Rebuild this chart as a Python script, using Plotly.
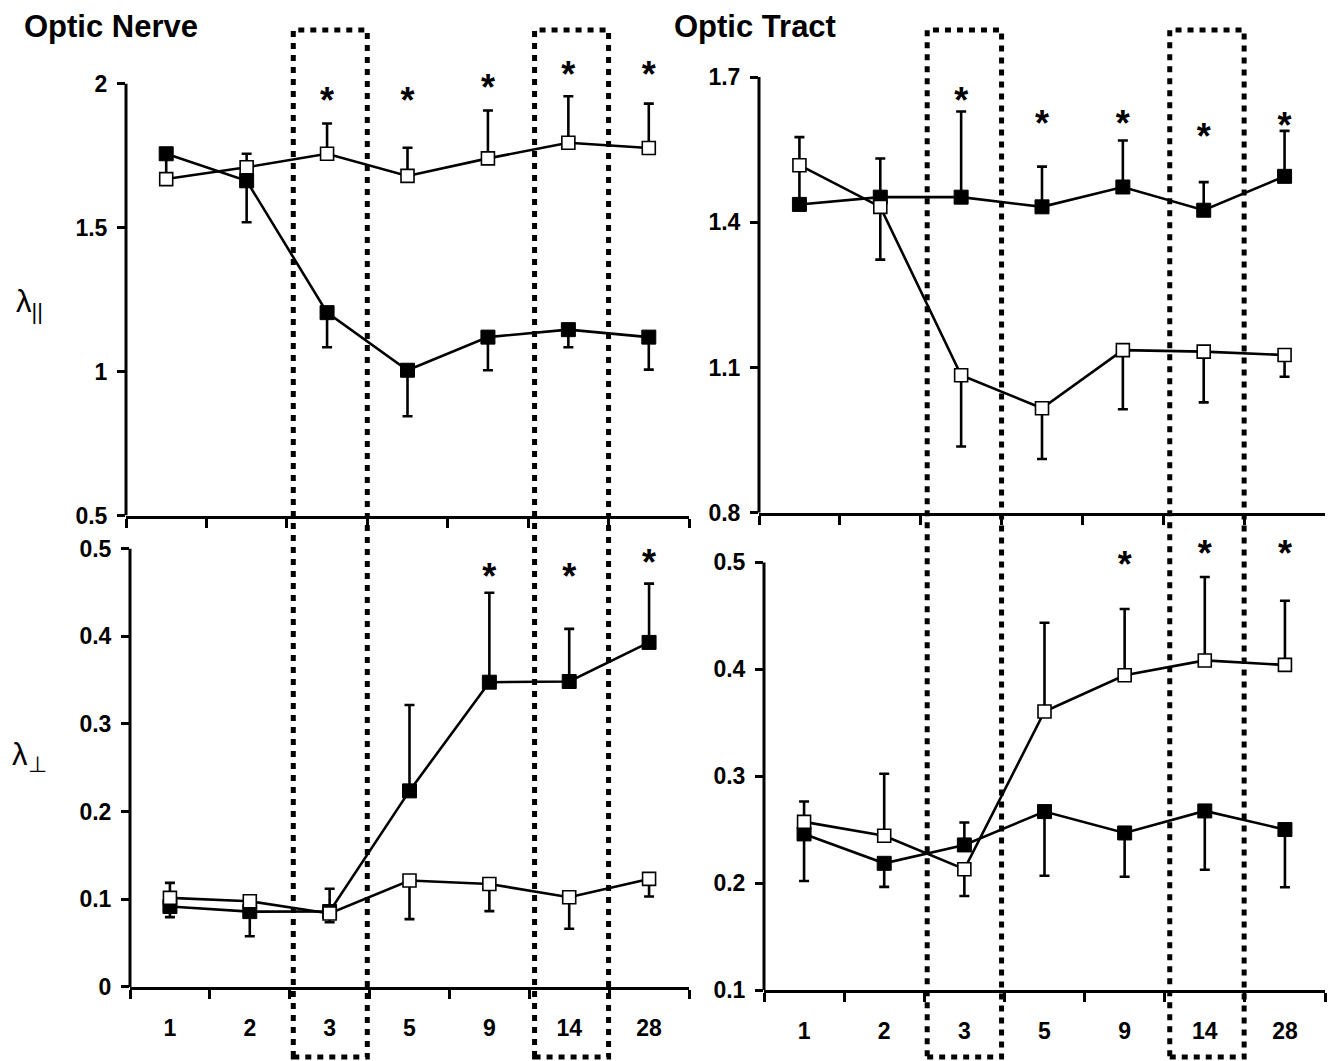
import plotly.graph_objects as go

# ---------------- data ----------------
days = ["1", "2", "3", "5", "9", "14", "28"]

# Optic nerve, lambda parallel
on_par_filled = [1.757, 1.663, 1.205, 1.005, 1.120, 1.146, 1.120]
on_par_filled_err_plus = [0, 0, 0, 0, 0, 0, 0]
on_par_filled_err_minus = [0.07, 0.144, 0.120, 0.160, 0.115, 0.061, 0.113]
on_par_open = [1.669, 1.710, 1.757, 1.680, 1.741, 1.795, 1.777]
on_par_open_err_plus = [0.0, 0.047, 0.105, 0.098, 0.166, 0.162, 0.154]
on_par_open_err_minus = [0, 0, 0, 0, 0, 0, 0]
on_par_star_days = ["3", "5", "9", "14", "28"]
on_par_star_y = [1.930, 1.930, 1.975, 2.020, 2.020]

# Optic tract, lambda parallel
ot_par_filled = [1.437, 1.452, 1.452, 1.432, 1.473, 1.425, 1.495]
ot_par_filled_err_plus = [0.139, 0.080, 0.177, 0.083, 0.096, 0.058, 0.094]
ot_par_filled_err_minus = [0, 0, 0, 0, 0, 0, 0]
ot_par_open = [1.518, 1.432, 1.084, 1.016, 1.136, 1.133, 1.126]
ot_par_open_err_plus = [0, 0, 0, 0, 0, 0, 0]
ot_par_open_err_minus = [0.0, 0.109, 0.147, 0.105, 0.122, 0.105, 0.045]
ot_par_star_days = ["3", "5", "9", "14", "28"]
ot_par_star_y = [1.644, 1.597, 1.597, 1.571, 1.593]

# Optic nerve, lambda perpendicular
on_perp_filled = [0.0917, 0.0859, 0.0860, 0.2236, 0.3476, 0.3484, 0.3930]
on_perp_filled_err_plus = [0.027, 0.0, 0.026, 0.098, 0.102, 0.060, 0.067]
on_perp_filled_err_minus = [0, 0, 0, 0, 0, 0, 0]
on_perp_open = [0.1016, 0.0977, 0.0838, 0.1213, 0.1174, 0.1023, 0.1232]
on_perp_open_err_plus = [0, 0, 0, 0, 0, 0, 0]
on_perp_open_err_minus = [0.022, 0.040, 0.010, 0.044, 0.031, 0.036, 0.020]
on_perp_star_days = ["9", "14", "28"]
on_perp_star_y = [0.464, 0.464, 0.480]

# Optic tract, lambda perpendicular
ot_perp_filled = [0.2460, 0.2185, 0.2357, 0.2669, 0.2469, 0.2675, 0.2501]
ot_perp_filled_err_plus = [0, 0, 0.021, 0, 0, 0, 0]
ot_perp_filled_err_minus = [0.044, 0.022, 0.0, 0.060, 0.041, 0.055, 0.054]
ot_perp_open = [0.2573, 0.2443, 0.2130, 0.3605, 0.3944, 0.4083, 0.4041]
ot_perp_open_err_plus = [0.019, 0.058, 0.0, 0.083, 0.062, 0.078, 0.060]
ot_perp_open_err_minus = [0, 0, 0.025, 0, 0, 0, 0]
ot_perp_star_days = ["9", "14", "28"]
ot_perp_star_y = [0.4945, 0.505, 0.505]

highlight_days = ["3", "14"]

# ---------------- figure ----------------
W, H = 1339, 1061
OFF = 8  # page body margin in the browser


def xp(px):
    return (px - OFF) / W


def yp(py):
    return 1 - (py - OFF) / H


FAM = "Liberation Sans, Arial, sans-serif"
TICK_FONT = dict(family=FAM, size=23, color="black", weight="bold")

panels = [
    dict(xa="x", ya="y", xpx=(126, 689), ypx=(83.8, 515.6), yr=(0.5, 2.0), head=0.08,
         tv=[0.5, 1.0, 1.5, 2.0], tt=["0.5", "1", "1.5", "2"], showx=False,
         filled=(on_par_filled, on_par_filled_err_plus, on_par_filled_err_minus),
         open=(on_par_open, on_par_open_err_plus, on_par_open_err_minus),
         stars=(on_par_star_days, on_par_star_y)),
    dict(xa="x2", ya="y2", xpx=(759, 1325), ypx=(77.1, 512.8), yr=(0.8, 1.7), head=0.0,
         tv=[0.8, 1.1, 1.4, 1.7], tt=["0.8", "1.1", "1.4", "1.7"], showx=False,
         filled=(ot_par_filled, ot_par_filled_err_plus, ot_par_filled_err_minus),
         open=(ot_par_open, ot_par_open_err_plus, ot_par_open_err_minus),
         stars=(ot_par_star_days, ot_par_star_y)),
    dict(xa="x3", ya="y3", xpx=(130, 689), ypx=(548.6, 986.9), yr=(0.0, 0.5), head=0.0,
         tv=[0, 0.1, 0.2, 0.3, 0.4, 0.5], tt=["0", "0.1", "0.2", "0.3", "0.4", "0.5"], showx=True,
         filled=(on_perp_filled, on_perp_filled_err_plus, on_perp_filled_err_minus),
         open=(on_perp_open, on_perp_open_err_plus, on_perp_open_err_minus),
         stars=(on_perp_star_days, on_perp_star_y)),
    dict(xa="x4", ya="y4", xpx=(764, 1325), ypx=(562.4, 990), yr=(0.1, 0.5), head=0.02,
         tv=[0.1, 0.2, 0.3, 0.4, 0.5], tt=["0.1", "0.2", "0.3", "0.4", "0.5"], showx=True,
         filled=(ot_perp_filled, ot_perp_filled_err_plus, ot_perp_filled_err_minus),
         open=(ot_perp_open, ot_perp_open_err_plus, ot_perp_open_err_minus),
         stars=(ot_perp_star_days, ot_perp_star_y)),
]

fig = go.Figure()
annotations = []
shapes = []

for i, p in enumerate(panels):
    suffix = "" if i == 0 else str(i + 1)
    vals, ep, em = p["filled"]
    fig.add_trace(go.Scatter(
        x=days, y=vals, xaxis=p["xa"], yaxis=p["ya"], mode="lines+markers",
        line=dict(color="black", width=2.6),
        marker=dict(symbol="square", size=14, color="black", line=dict(color="black", width=1)),
        error_y=dict(type="data", symmetric=False, array=ep, arrayminus=em,
                     color="black", thickness=2.6, width=5),
        cliponaxis=False, showlegend=False))
    vals, ep, em = p["open"]
    fig.add_trace(go.Scatter(
        x=days, y=vals, xaxis=p["xa"], yaxis=p["ya"], mode="lines+markers",
        line=dict(color="black", width=2.6),
        marker=dict(symbol="square", size=13, color="white", line=dict(color="black", width=1.6)),
        error_y=dict(type="data", symmetric=False, array=ep, arrayminus=em,
                     color="black", thickness=2.6, width=5),
        cliponaxis=False, showlegend=False))
    # significance asterisks
    sd, sy = p["stars"]
    fig.add_trace(go.Scatter(
        x=sd, y=sy, xaxis=p["xa"], yaxis=p["ya"], mode="text", text=["*"] * len(sd),
        textposition="middle center",
        textfont=dict(family=FAM, size=36, color="black", weight="bold"),
        cliponaxis=False, showlegend=False, hoverinfo="skip"))

    x0, x1 = p["xpx"]
    ytop, ybot = p["ypx"]
    r0, r1 = p["yr"]
    # extra headroom above the visible axis so the asterisks stay inside the range
    ytop_ext = ytop - p["head"] * (ybot - ytop) / (r1 - r0)
    fig.layout["xaxis" + suffix] = dict(
        domain=[xp(x0), xp(x1)], anchor=p["ya"], type="category",
        categoryorder="array", categoryarray=days, range=[-0.5, len(days) - 0.5],
        showline=True, linecolor="black", linewidth=3, mirror=False, automargin=False,
        ticks="outside", tickson="boundaries", ticklen=9, tickwidth=3, tickcolor="black",
        showgrid=False, zeroline=False, showticklabels=p["showx"],
        tickfont=TICK_FONT, ticklabelstandoff=18, fixedrange=True)
    fig.layout["yaxis" + suffix] = dict(
        domain=[yp(ybot), yp(ytop_ext)], anchor=p["xa"], range=[r0, r1 + p["head"]],
        tickmode="array", tickvals=p["tv"], ticktext=p["tt"], automargin=False,
        showline=False,
        ticks="outside", ticklen=8, tickwidth=3, tickcolor="black",
        showgrid=False, zeroline=False, tickfont=TICK_FONT, ticklabelstandoff=5,
        fixedrange=True)
    # visible y-axis line spanning only the labelled range
    shapes.append(dict(type="line", xref=p["xa"] + " domain", yref=p["ya"],
                       x0=0, x1=0, y0=r0, y1=r1,
                       line=dict(color="black", width=3), layer="above"))

# dotted highlight boxes spanning both rows
for xa in ["x", "x2"]:
    for d in highlight_days:
        idx = days.index(d)
        shapes.append(dict(
            type="rect", xref=xa, yref="paper",
            x0=idx + 0.04 - 0.46, x1=idx + 0.04 + 0.46,
            y0=yp(1057), y1=yp(30),
            line=dict(color="black", width=5, dash="6px,6px"),
            fillcolor="rgba(0,0,0,0)", layer="above"))

# panel titles (anchored to the top edge of the figure)
TITLE_FONT = dict(family=FAM, size=31, color="black", weight="bold")
annotations.append(dict(x=xp(23), y=1.0, xref="paper", yref="paper", text="Optic Nerve",
                        showarrow=False, xanchor="left", yanchor="top", borderpad=0,
                        font=TITLE_FONT))
annotations.append(dict(x=xp(673), y=1.0, xref="paper", yref="paper", text="Optic Tract",
                        showarrow=False, xanchor="left", yanchor="top", borderpad=0,
                        font=TITLE_FONT))

# y-axis labels
LAB_FONT = dict(family=FAM, size=31, color="black")
annotations.append(dict(x=xp(29), y=yp(304), xref="paper", yref="paper", text="λ<sub>||</sub>",
                        showarrow=False, xanchor="center", yanchor="middle", font=LAB_FONT))
annotations.append(dict(x=xp(29), y=yp(757), xref="paper", yref="paper", text="λ<sub>⊥</sub>",
                        showarrow=False, xanchor="center", yanchor="middle", font=LAB_FONT))

fig.update_layout(
    template="none",
    width=W, height=H, margin=dict(l=0, r=0, t=0, b=0, pad=0, autoexpand=False),
    paper_bgcolor="white", plot_bgcolor="white",
    annotations=annotations, shapes=shapes, showlegend=False)

fig.write_html("out.html", config={"displayModeBar": False})
